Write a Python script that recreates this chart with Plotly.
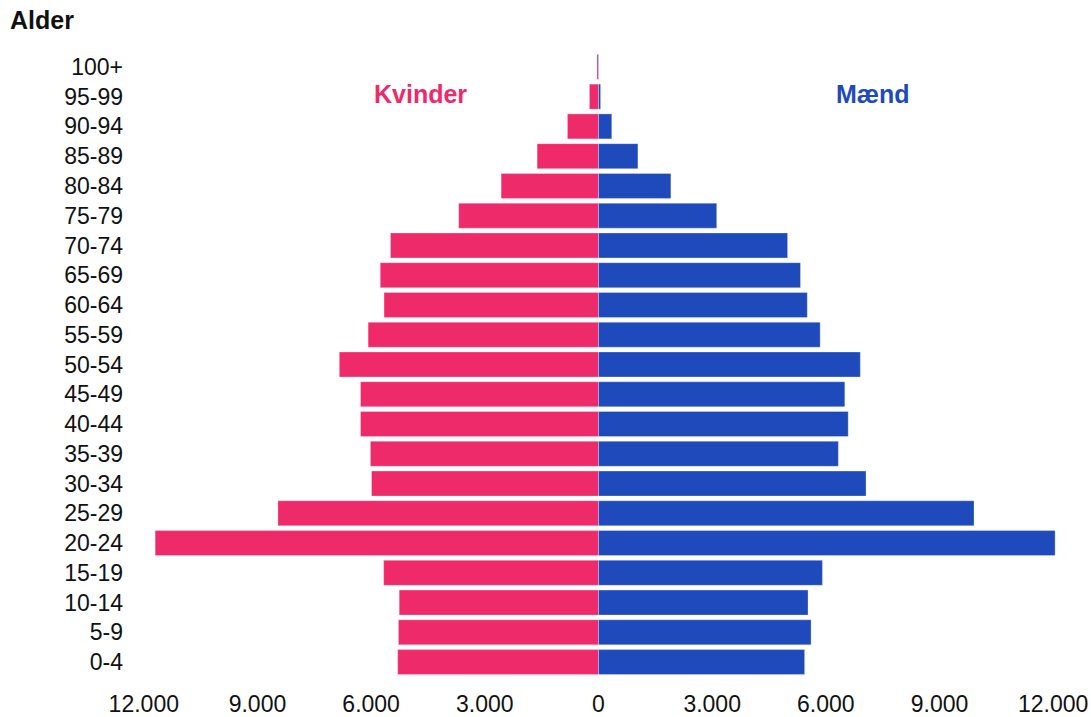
import plotly.graph_objects as go

age_groups = ["0-4", "5-9", "10-14", "15-19", "20-24", "25-29", "30-34", "35-39",
              "40-44", "45-49", "50-54", "55-59", "60-64", "65-69", "70-74",
              "75-79", "80-84", "85-89", "90-94", "95-99", "100+"]
women = [5300, 5280, 5260, 5670, 11700, 8460, 5990, 6020, 6280, 6280, 6840,
         6080, 5660, 5760, 5490, 3690, 2570, 1620, 820, 240, 40]
men = [5440, 5610, 5530, 5910, 12050, 9910, 7060, 6330, 6590, 6500, 6910,
       5850, 5510, 5330, 4990, 3120, 1910, 1040, 350, 55, 10]
tick_vals = [-12000, -9000, -6000, -3000, 0, 3000, 6000, 9000, 12000]
tick_text = ["12.000", "9.000", "6.000", "3.000", "0", "3.000", "6.000", "9.000", "12.000"]

PINK = "#EE2A6B"
BLUE = "#1F4ABB"
FONT = "Liberation Sans, Arial, sans-serif"

fig = go.Figure()
fig.add_trace(go.Bar(
    y=age_groups, x=[-v for v in women], orientation="h", name="Kvinder",
    marker=dict(color=PINK, line=dict(color="rgba(255,255,255,0.6)", width=0.5)),
    customdata=women, hovertemplate="%{y}: %{customdata}<extra>Kvinder</extra>",
))
fig.add_trace(go.Bar(
    y=age_groups, x=men, orientation="h", name="Mænd",
    marker=dict(color=BLUE, line=dict(color="rgba(255,255,255,0.6)", width=0.5)),
    hovertemplate="%{y}: %{x}<extra>Mænd</extra>",
))

fig.update_layout(
    width=1091, height=717,
    barmode="overlay", bargap=0.16,
    showlegend=False,
    plot_bgcolor="white", paper_bgcolor="white",
    margin=dict(l=140, r=34, t=52, b=40, autoexpand=False),
    font=dict(family=FONT, size=23, color="#111111"),
    title=dict(text="<b>Alder</b>", x=10/1091, xref="container", xanchor="left",
               y=1 - 20/717, yref="container", yanchor="middle",
               font=dict(family=FONT, size=25, color="#111111")),
    xaxis=dict(range=[-12100, 12100], tickvals=tick_vals, ticktext=tick_text,
               showgrid=False, zeroline=False, showline=False, ticks="",
               ticklabelstandoff=11, fixedrange=True, automargin=False),
    yaxis=dict(type="category", categoryorder="array", categoryarray=age_groups,
               range=[-0.5, 20.5], showgrid=False, zeroline=False, showline=False,
               ticks="", ticklabelstandoff=16, fixedrange=True, automargin=False),
    annotations=[
        dict(text="<b>Kvinder</b>", x=-4690, y="95-99", xref="x", yref="y", yshift=3,
             showarrow=False, font=dict(family=FONT, size=25, color=PINK)),
        dict(text="<b>Mænd</b>", x=7245, y="95-99", xref="x", yref="y", yshift=3,
             showarrow=False, font=dict(family=FONT, size=25, color=BLUE)),
    ],
)

fig.write_html("out.html", config={"displayModeBar": False},
               post_script="document.body.style.margin='0';document.body.style.overflow='hidden';")
